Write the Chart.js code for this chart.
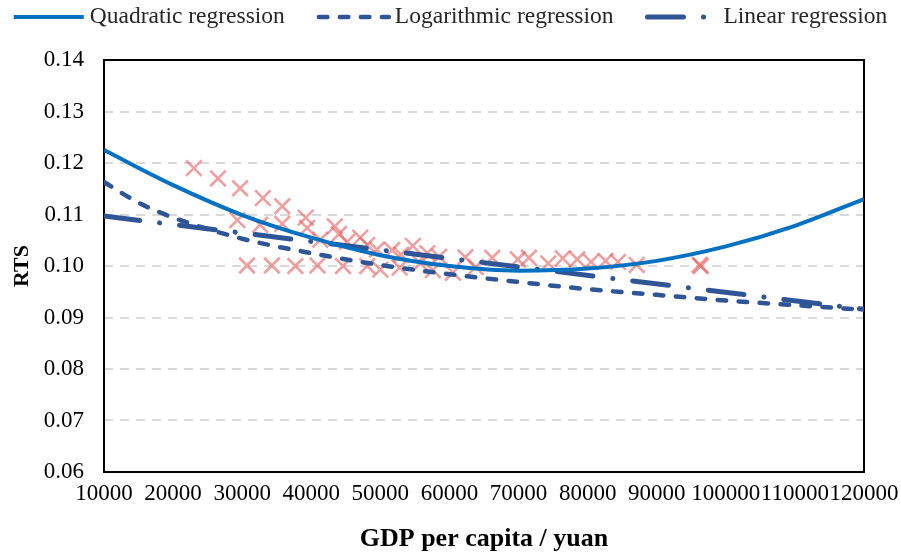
<!DOCTYPE html>
<html>
<head>
<meta charset="utf-8">
<script src="https://cdn.jsdelivr.net/npm/chart.js@4.4.1/dist/chart.umd.min.js"></script>
<style>
  html, body { margin: 0; padding: 0; background: #fff; }
  #wrap { width: 901px; height: 558px; position: relative; }
</style>
</head>
<body>
<div id="wrap"><canvas id="myChart"></canvas></div>
<script>
// scatter: GDP per capita (yuan) vs RTS
const gdp = [
    23000, 26500, 29700, 33000, 35800, 39200, 29300, 32600, 35800, 39400,
    43400, 41300, 44000, 30700, 34300, 37700, 40900, 44600, 45200, 47100,
    48100, 48100, 50000, 51700, 52800, 54700, 56800, 57600, 49500, 53000,
    55800, 58500, 60500, 62300, 63800, 66200, 69900, 71500, 74300, 76400,
    78500, 80500, 82600, 84400, 87100, 96200, 96400
];
const rts = [
    0.1190, 0.1170, 0.1151, 0.1132, 0.1116, 0.1094, 0.1089, 0.1080, 0.1082, 0.1074,
    0.1077, 0.1051, 0.1062, 0.1001, 0.1001, 0.1000, 0.1001, 0.1000, 0.1047, 0.1055,
    0.1041, 0.1000, 0.0993, 0.1031, 0.0997, 0.1039, 0.1025, 0.0992, 0.1032, 0.1022,
    0.1005, 0.1018, 0.0987, 0.1017, 0.0998, 0.1016, 0.1013, 0.1016, 0.1005, 0.1015,
    0.1013, 0.1008, 0.1010, 0.1008, 0.1002, 0.1002, 0.1000
];

// regression curves
const quadX = [10000, 20000, 30000, 40000, 50000, 60000, 70000, 80000, 90000, 100000, 110000, 120000];
const quadY = [0.1225, 0.1157, 0.1099, 0.1055, 0.1021, 0.1000, 0.0991, 0.0995, 0.1010, 0.1038, 0.1078, 0.1130];

const logX = [10000, 15000, 20000, 30000, 40000, 50000, 60000, 70000, 80000, 90000, 100000, 110000, 120000];
const logY = [0.1163, 0.1123, 0.1094, 0.1053, 0.1025, 0.1002, 0.0984, 0.0969, 0.0955, 0.0944, 0.0933, 0.0924, 0.0915];

const linX = [10000, 120000];
const linY = [0.1097, 0.0916];

const xTicks = [10000, 20000, 30000, 40000, 50000, 60000, 70000, 80000, 90000, 100000, 110000, 120000];
const yTicks = [0.06, 0.07, 0.08, 0.09, 0.10, 0.11, 0.12, 0.13, 0.14];

const pts = (xs, ys) => xs.map((x, i) => ({ x: x, y: ys[i] }));

const serif = "'Liberation Serif', 'Times New Roman', serif";

const plotFrame = {
    id: "plotFrame",
    beforeDatasetsDraw(chart) {
        const a = chart.chartArea;
        const c = chart.ctx;
        c.save();
        c.strokeStyle = "#000";
        c.lineWidth = 2;
        c.strokeRect(a.left, a.top, a.right - a.left, a.bottom - a.top);
        c.restore();
    }
};

// the built-in legend ignores dashes with point styles, so draw it here
const lineLegend = {
    id: "lineLegend",
    afterDraw(chart) {
        const c = chart.ctx;
        const sets = chart.data.datasets.slice(0, 3);
        const sampleW = 70, textGap = 6, itemGap = 34, y = 17;
        c.save();
        c.font = "23.5px " + serif;
        const widths = sets.map(d => c.measureText(d.label).width);
        let total = 0;
        widths.forEach(w => { total += sampleW + textGap + w; });
        total += itemGap * (sets.length - 1);
        let x = (chart.width - total) / 2;
        sets.forEach((d, i) => {
            c.beginPath();
            c.setLineDash(d.borderDash || []);
            c.lineCap = d.borderCapStyle || "butt";
            c.lineWidth = d.borderWidth;
            c.strokeStyle = d.borderColor;
            c.moveTo(x, y);
            c.lineTo(x + sampleW, y);
            c.stroke();
            c.setLineDash([]);
            c.fillStyle = "#262626";
            c.textBaseline = "middle";
            c.fillText(d.label, x + sampleW + textGap, y);
            x += sampleW + textGap + widths[i] + itemGap;
        });
        c.restore();
    }
};

const ctx = document.getElementById("myChart").getContext("2d");

const myChart = new Chart(ctx, {
    type: "line",
    data: {
        datasets: [
            {
                label: "Quadratic regression",
                data: pts(quadX, quadY),
                borderColor: "#0070C0",
                backgroundColor: "#0070C0",
                borderWidth: 4,
                pointRadius: 0,
                cubicInterpolationMode: "monotone",
                fill: false
            },
            {
                label: "Logarithmic regression",
                data: pts(logX, logY),
                borderColor: "#2F5597",
                backgroundColor: "#2F5597",
                borderWidth: 4.5,
                borderDash: [8.5, 12.5],
                borderCapStyle: "round",
                pointRadius: 0,
                cubicInterpolationMode: "monotone",
                fill: false
            },
            {
                label: "Linear regression",
                data: pts(linX, linY),
                borderColor: "#2F5597",
                backgroundColor: "#2F5597",
                borderWidth: 5,
                borderDash: [36, 20, 0.1, 20],
                borderCapStyle: "round",
                pointRadius: 0,
                fill: false
            },
            {
                label: "RTS",
                data: pts(gdp, rts),
                showLine: false,
                pointStyle: "crossRot",
                pointRadius: 11,
                pointBorderWidth: 2.6,
                borderColor: "rgba(228, 100, 100, 0.62)",
                backgroundColor: "rgba(228, 100, 100, 0.62)"
            }
        ]
    },
    options: {
        responsive: true,
        maintainAspectRatio: false,
        animation: false,
        devicePixelRatio: 1,
        layout: { padding: { top: 60, left: 0, right: 0, bottom: 0 } },
        scales: {
            x: {
                type: "linear",
                min: 10000,
                max: 120000,
                afterBuildTicks: s => { s.ticks = xTicks.map(v => ({ value: v })); },
                afterFit: s => { s.height = 86; s.paddingRight = 37; },
                grid: { display: false, drawTicks: false },
                border: { display: false },
                ticks: {
                    autoSkip: false,
                    maxRotation: 0,
                    padding: 8,
                    color: "#000",
                    font: { family: serif, size: 23 },
                    callback: v => String(v)
                },
                title: {
                    display: true,
                    text: "GDP per capita / yuan",
                    color: "#000",
                    font: { family: serif, size: 26, weight: "bold" },
                    padding: { top: 0, bottom: 3 }
                }
            },
            y: {
                min: 0.06,
                max: 0.14,
                afterBuildTicks: s => { s.ticks = yTicks.map(v => ({ value: v })); },
                afterFit: s => { s.width = 104; },
                grid: { color: "#D9D9D9", lineWidth: 2, drawTicks: false },
                border: { display: false, dash: [9, 7] },
                ticks: {
                    padding: 20,
                    color: "#000",
                    font: { family: serif, size: 23 },
                    callback: v => Number(v).toFixed(2)
                },
                title: {
                    display: true,
                    text: "RTS",
                    color: "#000",
                    font: { family: serif, size: 22, weight: "bold" },
                    padding: { top: 9, bottom: 0 }
                }
            }
        },
        plugins: {
            legend: { display: false },
            tooltip: { enabled: false }
        }
    },
    plugins: [plotFrame, lineLegend]
});
</script>
</body>
</html>
